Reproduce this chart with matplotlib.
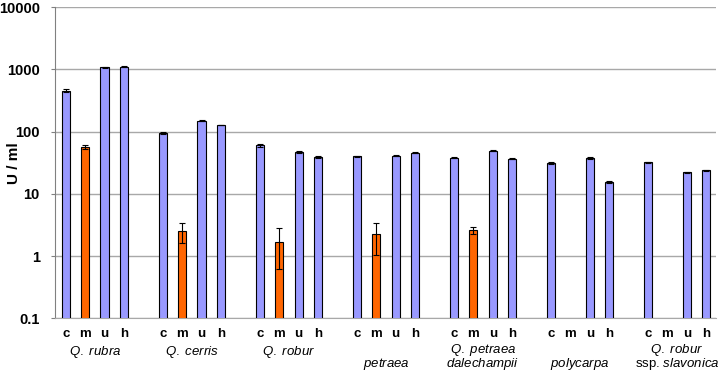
import numpy as np
import matplotlib.pyplot as plt
from matplotlib import transforms

plt.rcParams['font.family'] = ['Liberation Sans', 'DejaVu Sans']
plt.rcParams['mathtext.fontset'] = 'custom'
plt.rcParams['mathtext.it'] = 'Liberation Sans:italic'
plt.rcParams['mathtext.rm'] = 'Liberation Sans'

# group labels (two lines each)
groups_top = [r"$\it{Q.\ rubra}$", r"$\it{Q.\ cerris}$", r"$\it{Q.\ robur}$", "",
              r"$\it{Q.\ petraea}$", "", r"$\it{Q.\ robur}$"]
groups_bot = ["", "", "", r"$\it{petraea}$", r"$\it{dalechampii}$",
              r"$\it{polycarpa}$", r"ssp. $\it{slavonica}$"]
letters = ["c", "m", "u", "h"]

# U/ml values per treatment (nan = no bar)
c_val = [451, 96, 60, 40, 38, 31, 32]
m_val = [57, 2.54, 1.71, 2.25, 2.63, np.nan, np.nan]
u_val = [1070, 150, 47, 41, 49.5, 37.8, 22]
h_val = [1100, 127, 39, 46, 36.8, 15.7, 23.8]

c_err = [25, 4, 3, 1, 1, 1, 1]
m_err = [4, 0.9, 1.1, 1.2, 0.33, 0, 0]
u_err = [10, 3, 1, 1, 1, 1, 0.5]
h_err = [10, 2, 1, 1, 1, 0.6, 0.5]

blue = '#9999FF'
orange = '#FF6600'

fig = plt.figure(figsize=(7.21, 3.77), dpi=100)
ax = fig.add_axes([0.0763, 0.1557, 0.9161, 0.8257])

vals = [c_val, m_val, u_val, h_val]
errs = [c_err, m_err, u_err, h_err]
cols = [blue, orange, blue, blue]
ngroups = len(c_val)
xt = []
xl = []
for s in range(4):
    xs = np.arange(ngroups) * 5 + s
    v = np.array(vals[s], dtype=float)
    e = np.array(errs[s], dtype=float)
    ok = ~np.isnan(v)
    ax.bar(xs[ok], v[ok], width=0.42, bottom=0, color=cols[s],
           edgecolor='black', linewidth=0.8, zorder=3)
    ax.errorbar(xs[ok], v[ok], yerr=e[ok], fmt='none', ecolor='black',
                elinewidth=0.8, capsize=2.5, capthick=0.8, zorder=4)
    xt += list(xs)
    xl += [letters[s]] * ngroups

ax.set_yscale('log')
ax.set_ylim(0.1, 10000)
ax.set_xlim(-0.55, 33.48)
ax.set_yticks([0.1, 1, 10, 100, 1000, 10000])
ax.set_yticklabels(['0.1', '1', '10', '100', '1000', '10000'],
                   fontsize=10.5, fontweight='bold')
ax.minorticks_off()
ax.set_xticks(xt)
ax.set_xticklabels(xl, fontsize=9.5, fontweight='bold')
ax.tick_params(axis='x', length=0, pad=7)
ax.tick_params(axis='y', length=3, color='#808080', pad=8)
ax.set_ylabel('U / ml', fontsize=11, fontweight='bold')
ax.yaxis.set_label_coords(-0.0515, 0.5)

ax.grid(axis='y', color='#a8a8a8', linewidth=1, zorder=0)
for sp in ['top', 'right']:
    ax.spines[sp].set_visible(False)
ax.spines['left'].set_color('#808080')
ax.spines['bottom'].set_color('#a8a8a8')

tr = transforms.blended_transform_factory(ax.transData, ax.transAxes)
for g in range(ngroups):
    xc = g * 5 + 1.5
    top, bot = groups_top[g], groups_bot[g]
    if top and bot:
        ax.text(xc, -0.1555, top + "\n" + bot, transform=tr, ha='center',
                va='baseline', fontsize=9.5, linespacing=0.8, multialignment='center')
    elif top:
        ax.text(xc, -0.118, top, transform=tr, ha='center', va='baseline', fontsize=9.5)
    else:
        ax.text(xc, -0.1555, bot, transform=tr, ha='center', va='baseline', fontsize=9.5)

fig.savefig('out.png', dpi=100)
